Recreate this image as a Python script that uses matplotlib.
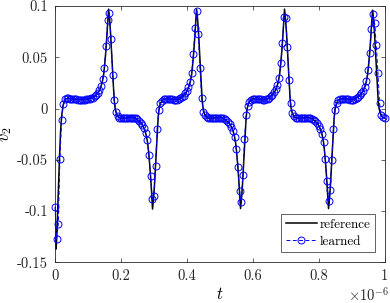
import matplotlib
matplotlib.use('Agg')
import matplotlib.pyplot as plt
import numpy as np

plt.rcParams['font.family'] = 'serif'
plt.rcParams['font.serif'] = ['cmr10']
plt.rcParams['mathtext.fontset'] = 'cm'
plt.rcParams['axes.unicode_minus'] = False

# reference curve, t in units of 1e-6
t_ref = [0, 0.0015, 0.003, 0.005, 0.008, 0.011, 0.014, 0.017, 0.020, 0.024,
         0.028, 0.033, 0.040, 0.050, 0.060, 0.070, 0.080, 0.090, 0.100, 0.108,
         0.1165, 0.1225, 0.1285, 0.1345, 0.1395, 0.1435, 0.1475, 0.1505, 0.1535,
         0.1565, 0.1595, 0.1625,
         0.1655, 0.1685, 0.1715, 0.1735, 0.1765, 0.1795, 0.1825, 0.1865, 0.1915,
         0.1975, 0.2075, 0.2175, 0.2275, 0.2375, 0.2445, 0.25, 0.256, 0.262,
         0.268, 0.273, 0.277, 0.281, 0.284, 0.287, 0.29, 0.293, 0.296,
         0.299, 0.302, 0.305, 0.307, 0.31, 0.313, 0.316, 0.32, 0.325, 0.331,
         0.341, 0.351, 0.361, 0.371, 0.378, 0.3835, 0.3895, 0.3955, 0.4015,
         0.4065, 0.4105, 0.4145, 0.4175, 0.4205, 0.4235, 0.4265, 0.4295,
         0.4325, 0.4355, 0.4385, 0.4405, 0.4435, 0.4465, 0.4495, 0.4535, 0.4585,
         0.4645, 0.4745, 0.4845, 0.4945, 0.5045, 0.5115, 0.517, 0.523, 0.529,
         0.535, 0.54, 0.544, 0.548, 0.551, 0.554, 0.557, 0.56, 0.563,
         0.566, 0.569, 0.572, 0.574, 0.577, 0.58, 0.583, 0.587, 0.592, 0.598,
         0.608, 0.618, 0.628, 0.638, 0.645, 0.6505, 0.6565, 0.6625, 0.6685,
         0.6735, 0.6775, 0.6815, 0.6845, 0.6875, 0.6905, 0.6935, 0.6965,
         0.6995, 0.7025, 0.7055, 0.7075, 0.7105, 0.7135, 0.7165, 0.7205, 0.7255,
         0.7315, 0.7415, 0.7515, 0.7615, 0.7715, 0.7785, 0.784, 0.79, 0.796,
         0.802, 0.807, 0.811, 0.815, 0.818, 0.821, 0.824, 0.827, 0.830,
         0.833, 0.836, 0.839, 0.841, 0.844, 0.847, 0.85, 0.854, 0.859, 0.865,
         0.875, 0.885, 0.895, 0.905, 0.912, 0.9175, 0.9235, 0.9295, 0.9355,
         0.9405, 0.9445, 0.9485, 0.9515, 0.9545, 0.9575, 0.9605, 0.9635,
         0.9665, 0.9695, 0.9725, 0.9745, 0.9775, 0.9805, 0.9835, 0.9875, 0.9925,
         0.9985, 1.0]
v_ref = [-0.096, -0.120, -0.137, -0.128, -0.100, -0.072, -0.045, -0.022, -0.008, 0.002,
         0.007, 0.0095, 0.0100, 0.0096, 0.0092, 0.0088, 0.0087, 0.0089, 0.0094, 0.0100,
         0.0110, 0.0125, 0.0145, 0.0175, 0.0215, 0.0260, 0.0330, 0.0420, 0.0530,
         0.0660, 0.0810, 0.0970,
         0.088, 0.074, 0.056, 0.045, 0.025, 0.009, 0.000, -0.005, -0.0078,
         -0.0092, -0.0096, -0.0092, -0.0088, -0.0088, -0.0095, -0.0110, -0.0125, -0.0145,
         -0.0175, -0.0215, -0.0260, -0.0330, -0.0420, -0.0530, -0.0660, -0.0810, -0.0980,
         -0.088, -0.074, -0.056, -0.045, -0.025, -0.009, 0.000, 0.005, 0.0078, 0.0092,
         0.0096, 0.0092, 0.0088, 0.0088, 0.0095, 0.0110, 0.0125, 0.0145, 0.0175,
         0.0215, 0.0260, 0.0330, 0.0420, 0.0530, 0.0660, 0.0810, 0.0970,
         0.088, 0.074, 0.056, 0.045, 0.025, 0.009, 0.000, -0.005, -0.0078,
         -0.0092, -0.0096, -0.0092, -0.0088, -0.0088, -0.0095, -0.0110, -0.0125, -0.0145,
         -0.0175, -0.0215, -0.0260, -0.0330, -0.0420, -0.0530, -0.0660, -0.0810, -0.0975,
         -0.088, -0.074, -0.056, -0.045, -0.025, -0.009, 0.000, 0.005, 0.0078, 0.0092,
         0.0096, 0.0092, 0.0088, 0.0088, 0.0095, 0.0110, 0.0125, 0.0145, 0.0175,
         0.0215, 0.0260, 0.0330, 0.0420, 0.0530, 0.0660, 0.0810, 0.0970,
         0.088, 0.074, 0.056, 0.045, 0.025, 0.009, 0.000, -0.005, -0.0078,
         -0.0092, -0.0096, -0.0092, -0.0088, -0.0088, -0.0095, -0.0110, -0.0125, -0.0145,
         -0.0175, -0.0215, -0.0260, -0.0330, -0.0420, -0.0530, -0.0660, -0.0810, -0.0975,
         -0.088, -0.074, -0.056, -0.045, -0.025, -0.009, 0.000, 0.005, 0.0078, 0.0092,
         0.0096, 0.0092, 0.0088, 0.0088, 0.0095, 0.0110, 0.0125, 0.0145, 0.0175,
         0.0215, 0.0260, 0.0330, 0.0420, 0.0530, 0.0660, 0.0810, 0.0960,
         0.088, 0.074, 0.056, 0.045, 0.025, 0.009, 0.000, -0.005, -0.0078,
         -0.0092, -0.0093]

# learned model, sampled every 0.005e-6 from 0 to 1e-6
v_learned = [
    -0.096, -0.127, -0.113, -0.049, -0.011, 0.004, 0.0089, 0.0099, 0.0100, 0.0098,
    0.0096, 0.0094, 0.0092, 0.0090, 0.0088, 0.0087, 0.0087, 0.0087, 0.0088, 0.0090,
    0.0093, 0.0097, 0.0102, 0.0108, 0.0119, 0.0133, 0.0152, 0.0178, 0.0220, 0.0290,
    0.0400, 0.0610, 0.0860, 0.0930, 0.0680, 0.0330, 0.0080, -0.0030, -0.0070, -0.0087,
    -0.0093, -0.0096, -0.0095, -0.0093, -0.0091, -0.0089, -0.0088, -0.0088, -0.0089, -0.0094,
    -0.0106, -0.0122, -0.0138, -0.0158, -0.0190, -0.0237, -0.0310, -0.0455, -0.0660, -0.0880,
    -0.0850, -0.0560, -0.0200, -0.0010, 0.0055, 0.0078, 0.0090, 0.0095, 0.0096, 0.0094,
    0.0092, 0.0090, 0.0088, 0.0088, 0.0088, 0.0091, 0.0100, 0.0113, 0.0127, 0.0150,
    0.0175, 0.0210, 0.0258, 0.0350, 0.0530, 0.0790, 0.0950, 0.0730, 0.0400, 0.0100,
    -0.0030, -0.0065, -0.0082, -0.0092, -0.0095, -0.0096, -0.0094, -0.0092, -0.0090, -0.0088,
    -0.0088, -0.0089, -0.0094, -0.0104, -0.0116, -0.0131, -0.0150, -0.0175, -0.0215, -0.0275,
    -0.0390, -0.0570, -0.0800, -0.0910, -0.0650, -0.0300, -0.0060, 0.0030, 0.0068, 0.0086,
    0.0094, 0.0096, 0.0095, 0.0093, 0.0091, 0.0089, 0.0088, 0.0088, 0.0090, 0.0097,
    0.0108, 0.0121, 0.0137, 0.0158, 0.0188, 0.0230, 0.0300, 0.0440, 0.0640, 0.0890,
    0.0880, 0.0600, 0.0280, 0.0050, -0.0040, -0.0076, -0.0089, -0.0095, -0.0096, -0.0095,
    -0.0093, -0.0091, -0.0089, -0.0088, -0.0088, -0.0090, -0.0099, -0.0112, -0.0125, -0.0142,
    -0.0168, -0.0200, -0.0250, -0.0330, -0.0490, -0.0710, -0.0900, -0.0790, -0.0500, -0.0200,
    -0.0010, 0.0050, 0.0080, 0.0091, 0.0095, 0.0096, 0.0094, 0.0092, 0.0090, 0.0088,
    0.0088, 0.0088, 0.0092, 0.0104, 0.0116, 0.0130, 0.0148, 0.0172, 0.0210, 0.0268,
    0.0375, 0.0540, 0.0780, 0.0920, 0.0830, 0.0620, 0.0350, 0.0050, -0.0060, -0.0085,
    -0.0093]
t_learned = np.linspace(0, 1, len(v_learned))

xticks = [0, 0.2, 0.4, 0.6, 0.8, 1]
xticklabels = ['0', '0.2', '0.4', '0.6', '0.8', '1']
yticks = [-0.15, -0.1, -0.05, 0, 0.05, 0.1]
yticklabels = ['-0.15', '-0.1', '-0.05', '0', '0.05', '0.1']

fig = plt.figure(figsize=(3.9, 3.03), dpi=100)
ax = fig.add_axes([0.141, 0.134, 0.845, 0.846])

ax.plot(t_ref, v_ref, '-', color='k', lw=1.1, label='reference')
ax.plot(t_learned, v_learned, '--', color='b', lw=0.7, marker='o', ms=5,
        mfc='none', mec='b', mew=0.7, dashes=(4, 2.5), label='learned',
        clip_on=False, zorder=3)

ax.set_xlim(0, 1)
ax.set_ylim(-0.15, 0.1)
ax.set_xticks(xticks)
ax.set_xticklabels(xticklabels)
ax.set_yticks(yticks)
ax.set_yticklabels(yticklabels)
ax.tick_params(direction='in', length=3, width=0.5, colors='#262626',
               top=True, right=True, labelsize=10.5, pad=5)
for s in ax.spines.values():
    s.set_linewidth(0.6)
    s.set_color('#262626')

ax.set_xlabel('$t$', fontsize=12, labelpad=2)
ax.set_ylabel('$v_2$', fontsize=12, labelpad=2)
fig.text(0.997, 0.026, r'$\times10^{-6}$', ha='right', va='center', fontsize=10.5,
         color='#262626')

leg = ax.legend(loc='lower right', bbox_to_anchor=(0.971, 0.040), borderaxespad=0,
                fontsize=9.5, fancybox=False, framealpha=1, edgecolor='#262626',
                handlelength=2.35, handletextpad=0.2, borderpad=0.35, labelspacing=0.35)
leg.get_frame().set_linewidth(0.5)

fig.savefig('out.png', dpi=100)
